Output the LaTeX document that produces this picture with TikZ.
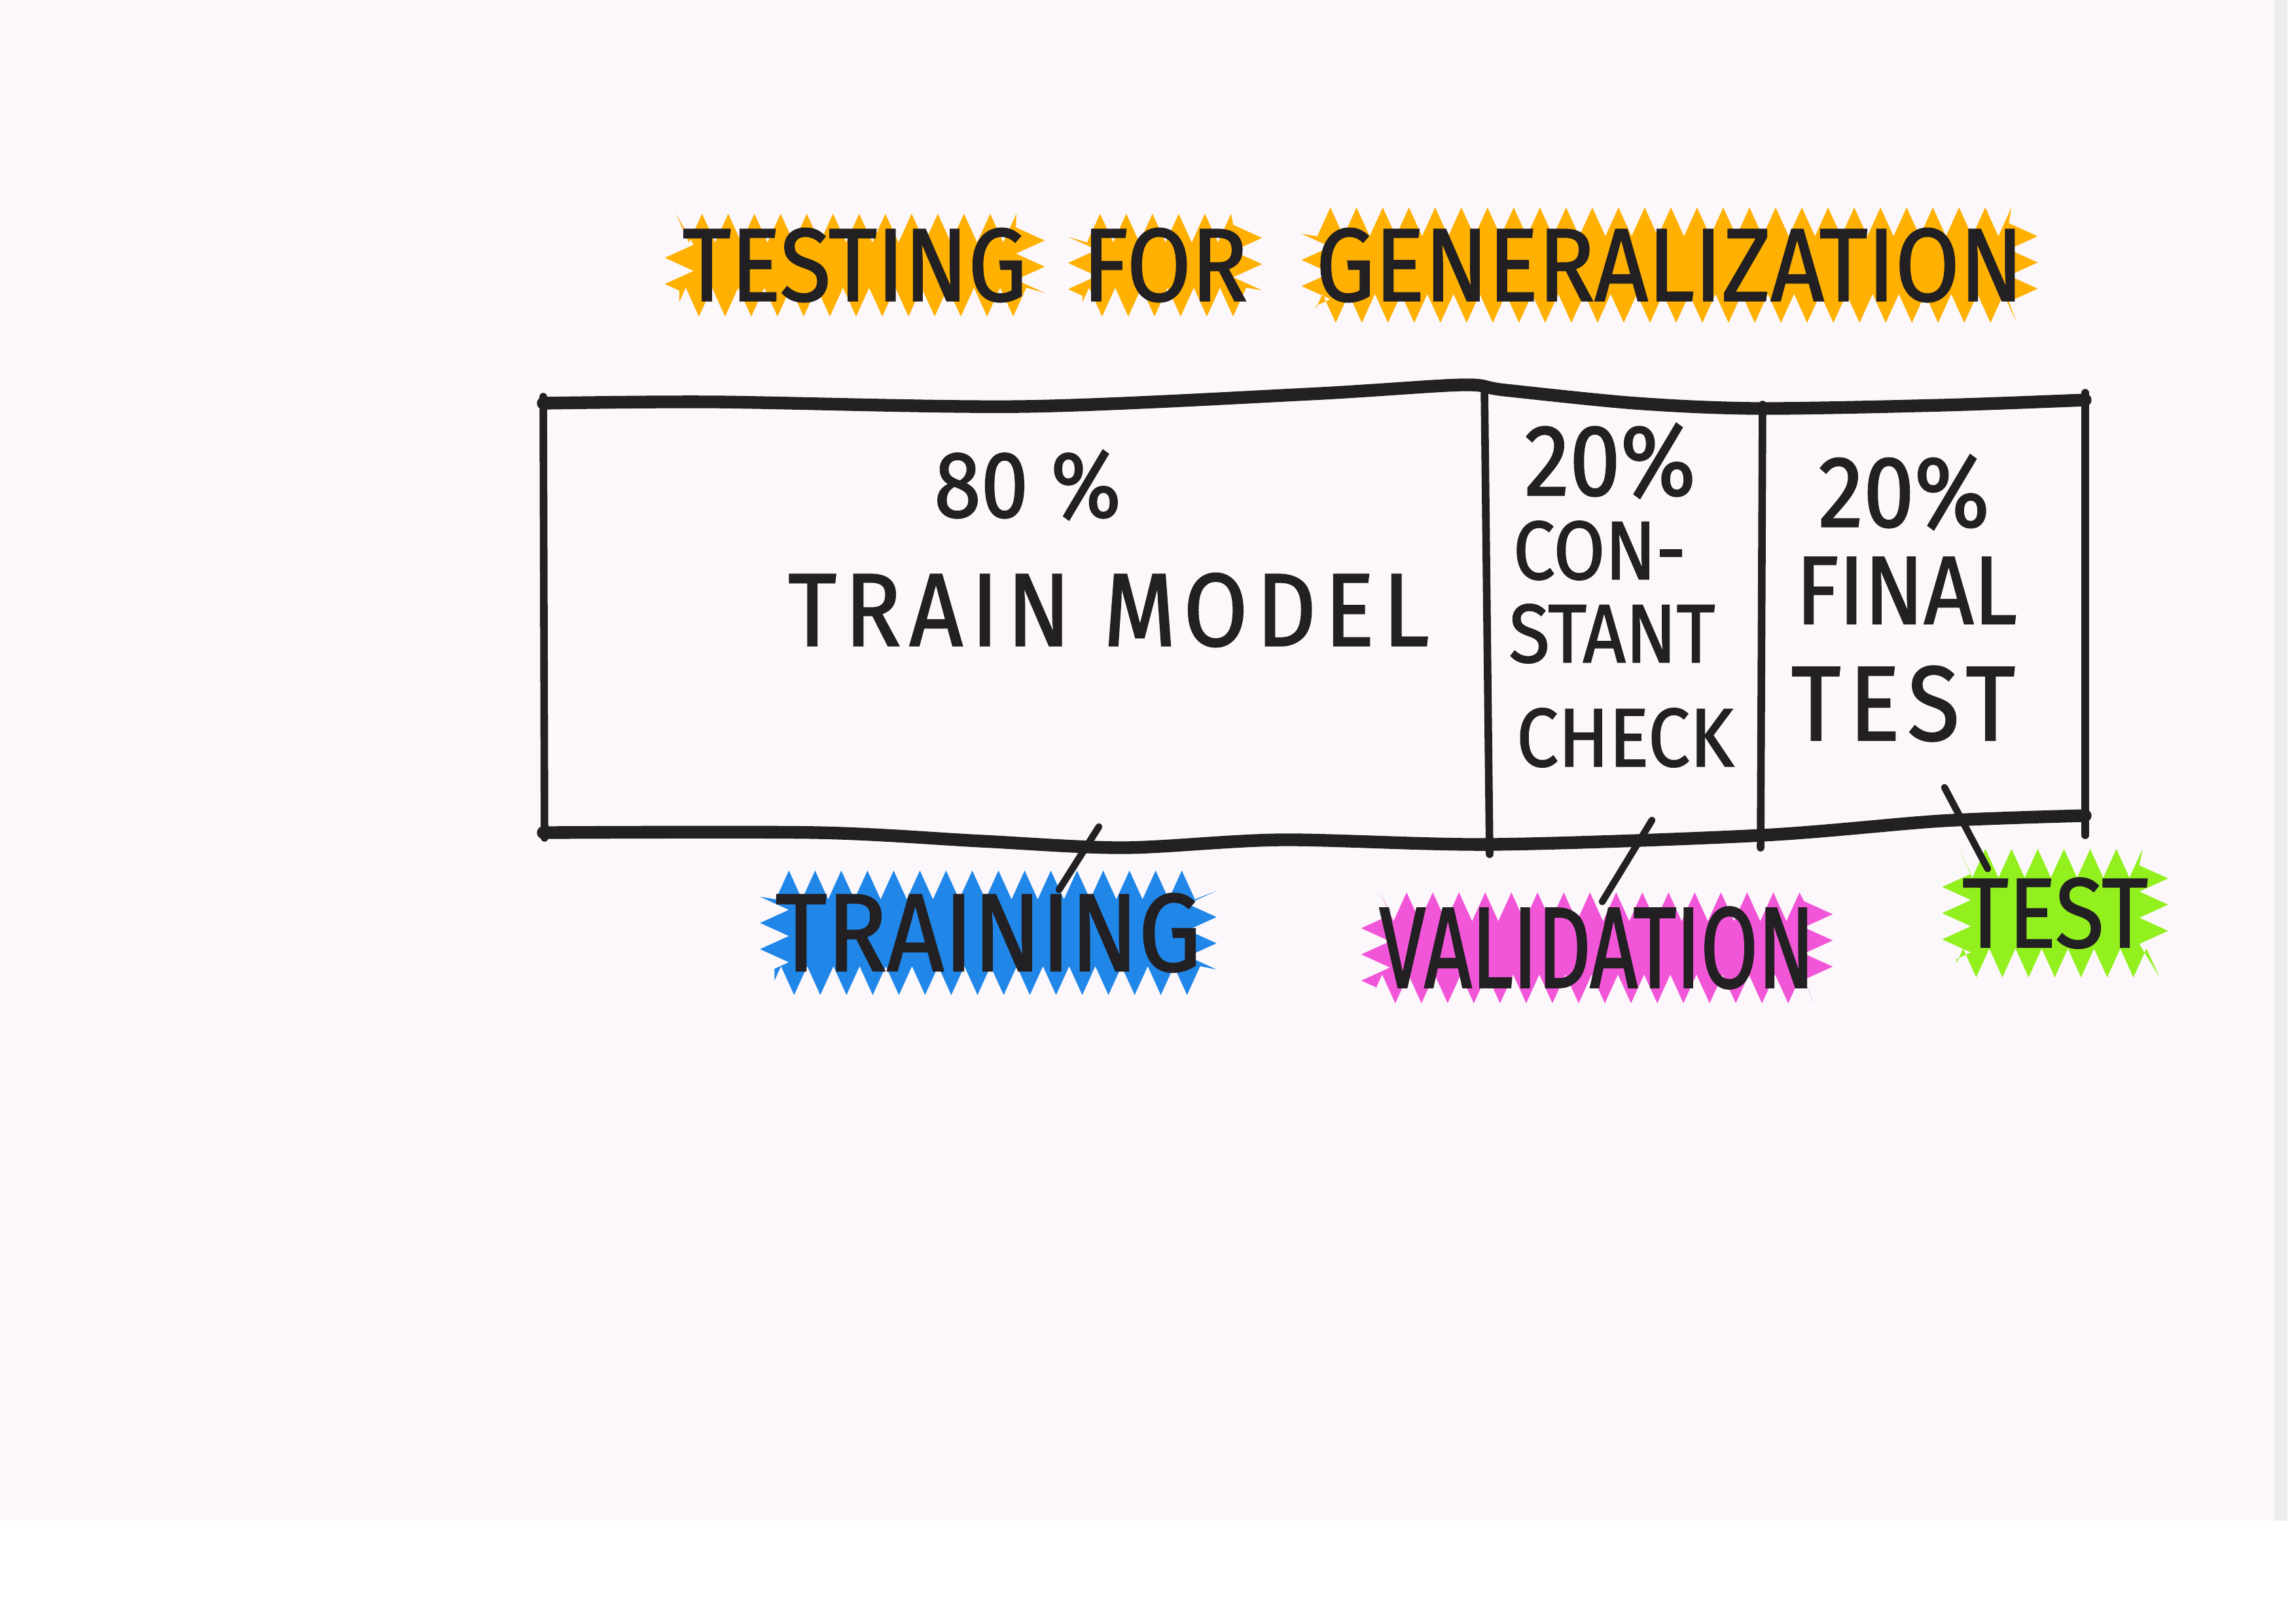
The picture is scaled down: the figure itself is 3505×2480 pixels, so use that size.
\documentclass[tikz,border=0pt]{standalone}
\usepackage{fontspec}
\newfontfamily\handfont[FakeStretch=0.9,FakeBold=1.4]{Fira Sans}
\newfontfamily\handslim[FakeStretch=0.72,FakeBold=1.4]{Fira Sans}
\newfontfamily\handwide[FakeStretch=0.9,FakeBold=1.4,LetterSpace=8]{Fira Sans}
\usetikzlibrary{decorations.pathmorphing}
\definecolor{paper}{RGB}{251,247,251}
\definecolor{ink}{RGB}{34,32,34}
\definecolor{hlorange}{RGB}{255,176,0}
\definecolor{hlblue}{RGB}{32,134,232}
\definecolor{hlpink}{RGB}{242,86,216}
\definecolor{hlgreen}{RGB}{146,240,30}

\begin{document}
\begin{tikzpicture}[x=0.01cm,y=-0.01cm,
    hand/.style={font=\handfont\fontsize{#1}{#1}\selectfont,text=ink,inner sep=0},
    slim/.style={font=\handslim\fontsize{#1}{#1}\selectfont,text=ink,inner sep=0},
    wide/.style={font=\handwide\fontsize{#1}{#1}\selectfont,text=ink,inner sep=0},
    hilite/.style={fill=#1,decorate,decoration={zigzag,segment length=0.4cm,amplitude=0.22cm}},
    rim/.style={draw=ink,line width=5.5pt,line cap=round,line join=round},
    wall/.style={draw=ink,line width=3.3pt,line cap=round},
    leader/.style={draw=ink,line width=3pt,line cap=round}]
  % sheet
  \useasboundingbox (0,0) rectangle (3505,2480);
  \fill[white] (0,0) rectangle (3505,2480);
  \fill[paper] (0,0) rectangle (3475,2323);
  \fill[black!7] (3475,0) rectangle (3495,2323);

  % title
  \node[hilite=hlorange,hand=45pt,minimum width=5.36cm,minimum height=1.06cm] (testing) at (1306,405) {TESTING};
  \node[hilite=hlorange,hand=45pt,minimum width=1.81cm,minimum height=1.06cm] (for) at (1780,405) {FOR};
  \node[hilite=hlorange,hand=45pt,minimum width=10.76cm,minimum height=1.32cm] (generalization) at (2551,405) {GENERALIZATION};

  % the split
  \draw[rim] plot[smooth] coordinates {(830,616) (1092,614) (1561,621) (2000,602) (2233,588) (2300,596) (2499,616) (2686,624) (2967,619) (3186,611)};
  \draw[rim] plot[smooth] coordinates {(830,1272) (1249,1272) (1500,1285) (1717,1295) (1958,1283) (2279,1290) (2693,1276) (2967,1254) (3186,1246)};
  \draw[wall] (830,606) -- (832,1280);
  \draw[wall] (2268,588) -- (2276,1305);
  \draw[wall] (2693,618) -- (2690,1295);
  \draw[wall] (3186,600) -- (3186,1276);

  \node[hand=41pt] (eighty) at (1570,741) {80 \%};
  \node[wide=45pt] (trainmodel) at (1694,932) {TRAIN MODEL};
  \node[hand=44pt] (valpct) at (2460,704) {20\%};
  \node[hand=36pt] (con) at (2444,841) {CON-};
  \node[hand=36pt] (stant) at (2463,968) {STANT};
  \node[hand=36pt] (check) at (2483,1127) {CHECK};
  \node[hand=44pt] (testpct) at (2909,752) {20\%};
  \node[hand=42pt] (final) at (2913,902) {FINAL};
  \node[wide=46pt] (finaltest) at (2908,1075) {TEST};

  % labels below
  \coordinate (trainpin) at (1679,1263);
  \coordinate (valpin) at (2524,1253);
  \coordinate (testpin) at (2971,1203);
  \node[hilite=hlblue,hand=48pt,minimum width=6.53cm,minimum height=1.46cm] (training) at (1510,1425) {TRAINING};
  \node[hilite=hlpink,slim=50pt,minimum width=6.76cm,minimum height=1.19cm] (validation) at (2440,1448) {VALIDATION};
  \node[hilite=hlgreen,hand=43pt,minimum width=3.01cm,minimum height=1.52cm] (test) at (3140,1395) {TEST};
  \draw[leader] (trainpin) -- ([xshift=1.08cm,yshift=-0.08cm]training.north);
  \draw[leader] (valpin) -- ([xshift=0.08cm,yshift=0.07cm]validation.north);
  \draw[leader] (testpin) -- ([xshift=-1.03cm,yshift=-0.09cm]test.north);
\end{tikzpicture}
\end{document}
